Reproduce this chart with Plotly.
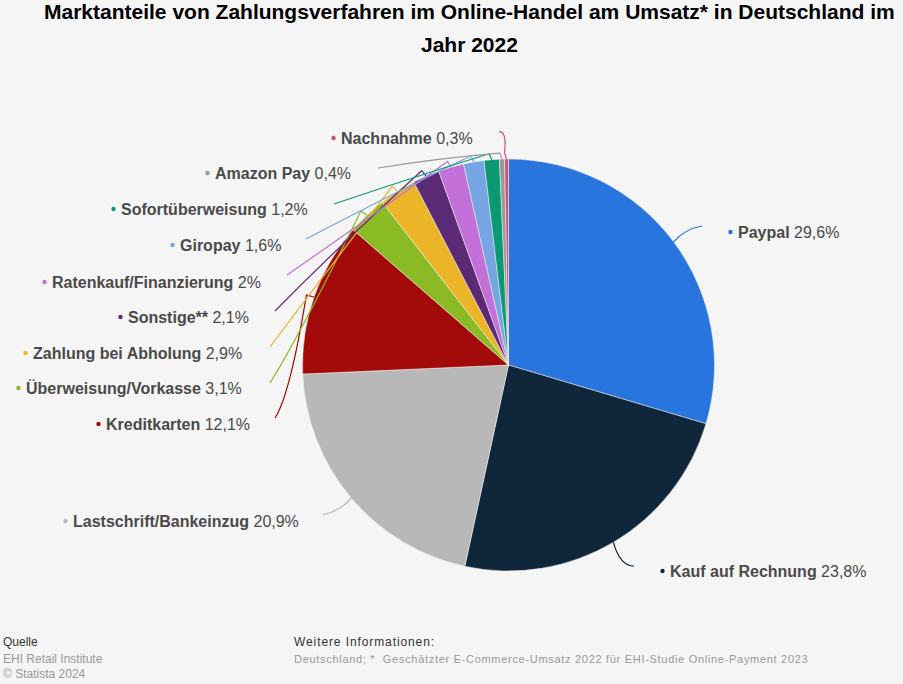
import numpy as np
import plotly.graph_objects as go

# ----------------------------
# Daten
# ----------------------------

labels = ["Paypal", "Kauf auf Rechnung", "Lastschrift/Bankeinzug", "Kreditkarten",
          "Überweisung/Vorkasse", "Zahlung bei Abholung", "Sonstige**",
          "Ratenkauf/Finanzierung", "Giropay", "Sofortüberweisung", "Amazon Pay", "Nachnahme"]
values = [29.6, 23.8, 20.9, 12.1, 3.1, 2.9, 2.1, 2, 1.6, 1.2, 0.4, 0.3]
colors = ["#2876dd", "#10263b", "#b8b8b8", "#a30a0a", "#8abb24", "#ecb527",
          "#5c2a74", "#c371d8", "#76a5e3", "#0b9873", "#999999", "#c9547a"]

# ----------------------------
# Layout (Pixel)
# ----------------------------

W, H = 903, 684
cx, cy, radius = 508.5, 365, 206

text_x = [738, 670, 73, 106, 26, 33, 128, 52, 180, 121, 215, 341]
text_y = [232, 571, 521, 424, 388, 353, 317, 282, 245, 209, 173, 138]
line_end = [(702, 226), (634, 566), (323, 515), (275, 418), (270, 383), (270, 347),
            (275, 311), (287, 275), (306, 239), (334, 204), (378, 168), (499, 131.7)]
line_ctrl = [(685, 229), (620, 566), (342, 510), (290, 395), (300, 335), (320, 280),
             (340, 245), (372, 216), (400, 190), (420, 175), (440, 158), (507, 131)]


def px(x):
    return x / W


def py(y):
    return 1 - y / H


def fmt(v):
    return f"{v:g}".replace(".", ",") + "%"


fig = go.Figure(go.Pie(
    labels=labels,
    values=values,
    sort=False,
    direction="clockwise",
    rotation=0,
    textinfo="none",
    hoverinfo="label+percent",
    showlegend=False,
    marker=dict(colors=colors, line=dict(color="#f5f5f5", width=0.5)),
    domain=dict(x=[px(cx - radius), px(cx + radius)], y=[py(cy + radius), py(cy - radius)]),
))

# ----------------------------
# Beschriftungen und Linien
# ----------------------------

shapes = []
annotations = []
cum = np.cumsum(values)
total = sum(values)

for i, name in enumerate(labels):
    ang = np.deg2rad((cum[i] - values[i] / 2) / total * 360)
    sx = cx + radius * np.sin(ang)
    sy = cy - radius * np.cos(ang)
    ex, ey = line_end[i]
    qx, qy = line_ctrl[i]
    if values[i] < 13:
        # kleine Segmente: kurzer Knick nach aussen
        kx = cx + (radius + 6) * np.sin(ang) - 2
        ky = cy - (radius + 6) * np.cos(ang)
        d = f"M {sx:.1f} {sy:.1f} L {kx:.1f} {ky:.1f} Q {qx} {qy} {ex} {ey}"
    else:
        d = f"M {sx:.1f} {sy:.1f} Q {qx} {qy} {ex} {ey}"
    shapes.append(dict(type="path", path=d, xref="x", yref="y",
                       line=dict(color=colors[i], width=1.2)))
    dot_x = text_x[i] - 7.5
    shapes.append(dict(type="circle", xref="x", yref="y",
                       x0=dot_x - 2.2, x1=dot_x + 2.2,
                       y0=text_y[i] - 2.2, y1=text_y[i] + 2.2,
                       fillcolor=colors[i], line=dict(width=0)))
    annotations.append(dict(
        x=text_x[i] - 2, y=text_y[i], xref="x", yref="y",
        xanchor="left", yanchor="middle", showarrow=False,
        text=f"<b>{name}</b> {fmt(values[i])}",
        font=dict(family="Liberation Sans", size=16, color="#4a4a4a"),
    ))

footer = [
    (1, 642, "Quelle", "#333333", 12),
    (1, 659, "EHI Retail Institute", "#999999", 12),
    (1, 674, "© Statista 2024", "#999999", 12),
    (292, 642, '<span style="letter-spacing:0.9px">Weitere Informationen:</span>', "#333333", 12),
    (292, 659, '<span style="letter-spacing:0.7px">Deutschland; *  Geschätzter E-Commerce-Umsatz 2022 für EHI-Studie Online-Payment 2023</span>', "#999999", 11),
]
for x, y, txt, col, size in footer:
    annotations.append(dict(x=x, y=y, xref="x", yref="y", xanchor="left", yanchor="middle",
                            showarrow=False, text=txt,
                            font=dict(family="Liberation Sans", size=size, color=col)))

title_lines = [(11, "Marktanteile von Zahlungsverfahren im Online-Handel am Umsatz* in Deutschland im"),
               (44, "Jahr 2022")]
for y, txt in title_lines:
    annotations.append(dict(
        x=469.5, y=y, xref="x", yref="y", xanchor="center", yanchor="middle", showarrow=False,
        text=f"<b>{txt}</b>",
        font=dict(family="Liberation Sans", size=21, color="#000000"),
    ))

fig.update_layout(
    width=W,
    height=H,
    margin=dict(l=0, r=0, t=0, b=0),
    paper_bgcolor="#f5f5f5",
    plot_bgcolor="rgba(0,0,0,0)",
    xaxis=dict(range=[0, W], visible=False, fixedrange=True),
    yaxis=dict(range=[H, 0], visible=False, fixedrange=True),
    shapes=shapes,
    annotations=annotations,
)

# Seitenrand entfernen, damit die Grafik das Fenster ausfuellt
fig.write_html("out.html", config={"displayModeBar": False},
               post_script="document.body.style.margin='0';document.body.style.background='#f5f5f5';")
